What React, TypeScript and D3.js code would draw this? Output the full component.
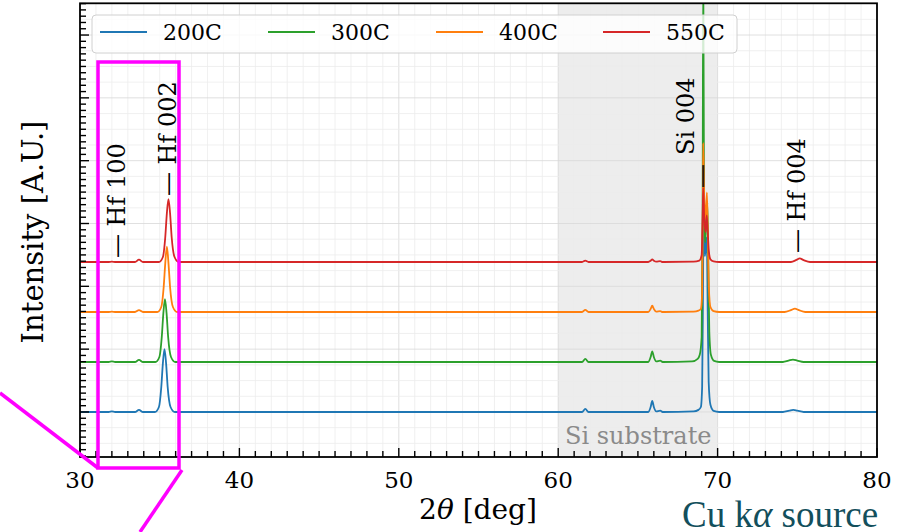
import React from 'react';
import * as d3 from 'd3';

// XRD scans, [2theta (deg), intensity relative to baseline]
const seriesNames = ['200C', '300C', '400C', '550C'];
const seriesColors = ['#1f77b4', '#2ca02c', '#ff7f0e', '#d62728'];
const offsetFactors = [1, 6.25, 39.06, 244.1];

const scan200C: [number, number][] = [
  [30, 1], [31.8, 1], [32.0, 1.02], [32.2, 1], [33.45, 1], [33.7, 1.08], [33.95, 1],
  [34.7, 1], [34.95, 1.2], [35.1, 2.5], [35.2, 6], [35.3, 10], [35.4, 6], [35.5, 2.5], [35.68, 1.2], [35.95, 1],
  [61.5, 1], [61.7, 1.12], [61.9, 1], [65.65, 1], [65.8, 1.2], [65.9, 1.5], [66.0, 1.2], [66.15, 1.02],
  [66.4, 1.05], [66.55, 1], [68.5, 1.02], [68.8, 1.08], [68.95, 1.2], [69.03, 2.5], [69.08, 60],
  [69.12, 2000], [69.2, 300], [69.32, 600], [69.38, 40], [69.44, 3], [69.55, 1.3], [69.75, 1.04], [70.1, 1],
  [74.1, 1], [74.5, 1.05], [74.75, 1.08], [75.0, 1.05], [75.4, 1], [80, 1],
];
const scan300C: [number, number][] = [
  [30, 1], [31.8, 1], [32.0, 1.02], [32.2, 1], [33.45, 1], [33.7, 1.08], [33.95, 1],
  [34.73, 1], [34.98, 1.2], [35.13, 2.5], [35.23, 6], [35.33, 10], [35.43, 6], [35.53, 2.5], [35.71, 1.2], [35.98, 1],
  [61.5, 1], [61.7, 1.12], [61.9, 1], [65.65, 1], [65.8, 1.2], [65.9, 1.48], [66.0, 1.2], [66.15, 1.02],
  [66.4, 1.05], [66.55, 1], [68.4, 1.02], [68.75, 1.12], [68.88, 1.3], [69.0, 2.5], [69.06, 200],
  [69.1, 2000000], [69.15, 300], [69.22, 80], [69.36, 340], [69.42, 30], [69.48, 3], [69.58, 1.3], [69.78, 1.04], [70.1, 1],
  [74.1, 1], [74.45, 1.05], [74.73, 1.09], [75.0, 1.05], [75.4, 1], [80, 1],
];
const scan400C: [number, number][] = [
  [30, 1], [31.8, 1], [32.0, 1.01], [32.2, 1], [33.45, 1], [33.7, 1.07], [33.95, 1],
  [34.85, 1], [35.1, 1.2], [35.25, 2.5], [35.35, 6], [35.45, 11], [35.55, 6], [35.65, 2.5], [35.83, 1.2], [36.1, 1],
  [61.5, 1], [61.7, 1.08], [61.9, 1], [65.65, 1], [65.8, 1.12], [65.9, 1.26], [66.0, 1.12], [66.15, 1.01],
  [66.4, 1.03], [66.55, 1], [68.5, 1.01], [68.8, 1.05], [68.95, 1.12], [69.03, 2], [69.07, 40],
  [69.1, 490], [69.16, 60], [69.24, 30], [69.33, 80], [69.39, 15], [69.45, 2.5], [69.55, 1.2], [69.75, 1.03], [70.1, 1],
  [74.2, 1], [74.6, 1.07], [74.85, 1.13], [75.1, 1.07], [75.5, 1], [80, 1],
];
const scan550C: [number, number][] = [
  [30, 1], [31.8, 1], [32.0, 1.01], [32.2, 1], [33.45, 1], [33.7, 1.09], [33.95, 1],
  [34.95, 1], [35.2, 1.2], [35.35, 2.5], [35.45, 6], [35.55, 10], [35.65, 6], [35.75, 2.5], [35.93, 1.2], [36.2, 1],
  [61.5, 1], [61.7, 1.05], [61.9, 1], [65.65, 1], [65.8, 1.05], [65.9, 1.1], [66.0, 1.05], [66.15, 1.01],
  [66.4, 1.03], [66.55, 1], [68.5, 1.01], [68.85, 1.05], [69.0, 1.3], [69.06, 5],
  [69.1, 15], [69.16, 5], [69.24, 3], [69.32, 5.5], [69.38, 3], [69.45, 1.5], [69.55, 1.1], [69.75, 1.02], [70.1, 1],
  [74.6, 1], [74.95, 1.08], [75.15, 1.14], [75.4, 1.07], [75.8, 1], [80, 1],
];
const scans = [scan200C, scan300C, scan400C, scan550C];

// peak labels: text, 2theta of the label, intensity where the text starts
const peakLabels = [
  { text: '\u2014 Hf 100', theta: 32.3, level: 282 },
  { text: '\u2014 Hf 002', theta: 35.52, level: 2740 },
  { text: 'Si 004', theta: 68.02, level: 12300 },
  { text: '\u2014 Hf 004', theta: 74.98, level: 339 },
];
const siMarker = { theta: 69.1, from: 8500, to: 3800 };

const xTicks = [30, 40, 50, 60, 70, 80];
const substrateSpan = [60, 70];
const decades = d3.range(-1, 7);

const W = 897, H = 532;
const plot = { left: 80, right: 877, top: 3.3, bottom: 457 };
const font = '"DejaVu Serif", serif';

export default function App() {
  const x = d3.scaleLinear().domain([30, 80]).range([plot.left, plot.right]);
  const y = d3.scaleLog().domain([0.192, 3.2e6]).range([plot.bottom, plot.top]);

  const line = d3.line<[number, number]>()
    .x(d => x(d[0]))
    .y(d => y(d[1]))
    .curve(d3.curveMonotoneX);

  const inRange = (v: number) => v >= 0.192 && v <= 3.2e6;
  const xMinor = d3.range(30, 81, 1);
  const yMajor = decades.map(k => Math.pow(10, k)).filter(inRange);
  // minor ticks split every decade in ten, minor grid in four
  const yMinorTicks: number[] = [];
  const yMinorGrid: number[] = [];
  decades.forEach(k => {
    for (let j = 1; j < 10; j++) yMinorTicks.push(Math.pow(10, k + j / 10));
    for (let j = 1; j < 4; j++) yMinorGrid.push(Math.pow(10, k + j / 4));
  });

  const legendX = [100, 268, 436, 603];

  return (
    <svg width={W} height={H} style={{ position: 'absolute', left: 0, top: 0, background: '#fff' }}>
      <defs>
        <clipPath id="plotClip">
          <rect x={plot.left} y={plot.top} width={plot.right - plot.left} height={plot.bottom - plot.top} />
        </clipPath>
      </defs>
      <rect x={0} y={0} width={W} height={H} fill="#fff" />

      {/* substrate region */}
      <rect x={x(substrateSpan[0])} y={plot.top} width={x(substrateSpan[1]) - x(substrateSpan[0])}
        height={plot.bottom - plot.top} fill="#dcdcdc" opacity={0.5} />

      {/* grid */}
      <g>
        {xMinor.map(v => (
          <line key={'gx' + v} x1={x(v)} x2={x(v)} y1={plot.top} y2={plot.bottom}
            stroke={v % 10 === 0 ? '#d8d8d8' : '#ececec'} strokeWidth={0.8} />
        ))}
        {yMinorGrid.filter(inRange).map(v => (
          <line key={'gym' + v} x1={plot.left} x2={plot.right} y1={y(v)} y2={y(v)} stroke="#ececec" strokeWidth={0.8} />
        ))}
        {yMajor.map(v => (
          <line key={'gy' + v} x1={plot.left} x2={plot.right} y1={y(v)} y2={y(v)} stroke="#d8d8d8" strokeWidth={0.8} />
        ))}
      </g>

      {/* scans */}
      <g clipPath="url(#plotClip)">
        {scans.map((s, i) => (
          <path key={seriesNames[i]}
            d={line(s.map(d => [d[0], d[1] * offsetFactors[i]] as [number, number])) || ''}
            fill="none" stroke={seriesColors[i]} strokeWidth={1.8} strokeLinejoin="round" />
        ))}
      </g>

      {/* peak labels */}
      {peakLabels.map(p => (
        <text key={p.text} transform={`translate(${x(p.theta)},${y(p.level)}) rotate(-90)`}
          fontFamily={font} fontSize={24} dominantBaseline="central" fill="#000">{p.text}</text>
      ))}
      <line x1={x(siMarker.theta)} x2={x(siMarker.theta)} y1={y(siMarker.from)} y2={y(siMarker.to)}
        stroke="#2a1a10" strokeWidth={2} />

      <text x={565} y={444} fontFamily={font} fontSize={24} fill="#8a8a8a">Si substrate</text>

      {/* legend */}
      <rect x={92} y={15} width={645} height={38} rx={4} fill="#fff" fillOpacity={0.8} stroke="#d0d0d0" strokeWidth={1} />
      {seriesNames.map((n, i) => (
        <g key={'lg' + n}>
          <line x1={legendX[i]} x2={legendX[i] + 47} y1={32} y2={32} stroke={seriesColors[i]} strokeWidth={1.8} />
          <text x={legendX[i] + 63} y={40} fontFamily={font} fontSize={22} fill="#000">{n}</text>
        </g>
      ))}

      {/* ticks, pointing inwards */}
      {xMinor.map(v => (
        <line key={'tx' + v} x1={x(v)} x2={x(v)} y1={plot.bottom} y2={plot.bottom - (v % 10 === 0 ? 9 : 6)}
          stroke="#000" strokeWidth={1.4} />
      ))}
      {yMajor.map(v => (
        <line key={'tyM' + v} x1={plot.left} x2={plot.left + 9} y1={y(v)} y2={y(v)} stroke="#000" strokeWidth={1.4} />
      ))}
      {yMinorTicks.filter(inRange).map(v => (
        <line key={'tym' + v} x1={plot.left} x2={plot.left + 6} y1={y(v)} y2={y(v)} stroke="#000" strokeWidth={1.4} />
      ))}
      <rect x={plot.left} y={plot.top} width={plot.right - plot.left} height={plot.bottom - plot.top}
        fill="none" stroke="#000" strokeWidth={1.8} />

      {xTicks.map(v => (
        <text key={'xl' + v} x={x(v)} y={488} textAnchor="middle" fontFamily={font} fontSize={23} fill="#000">{v}</text>
      ))}
      <text x={478} y={519} textAnchor="middle" fontFamily={font} fontSize={28} fill="#000">
        2<tspan fontStyle="italic">θ</tspan> [deg]
      </text>
      <text transform="translate(33,232) rotate(-90)" textAnchor="middle" dominantBaseline="central"
        fontFamily={font} fontSize={29} fill="#000">Intensity [A.U.]</text>

      {/* callout overlay */}
      <rect x={98} y={62} width={81} height={406} fill="none" stroke="#ff00ff" strokeWidth={3.5} />
      <line x1={0} y1={393} x2={98} y2={468} stroke="#ff00ff" strokeWidth={3.5} />
      <line x1={182} y1={470} x2={140} y2={532} stroke="#ff00ff" strokeWidth={3.5} />

      <text x={682} y={527} fontFamily='"Liberation Serif", serif' fontSize={37} fill="#134f5c">
        Cu k<tspan fontStyle="italic">α</tspan> source
      </text>
    </svg>
  );
}
